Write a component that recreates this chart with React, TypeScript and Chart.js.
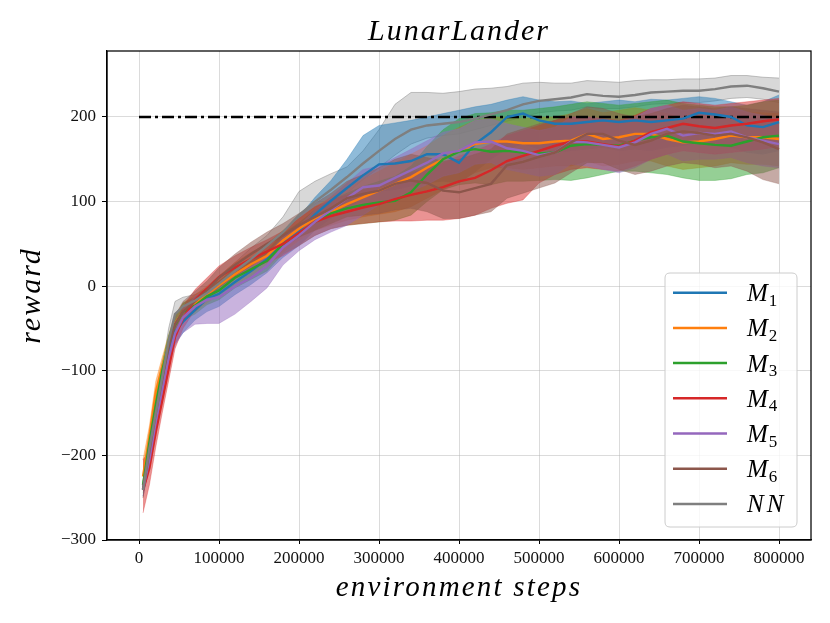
import { useEffect, useRef } from 'react';
import { Chart, registerables } from 'chart.js';

Chart.register(...registerables);

const steps = [5000, 13000, 21000, 29000, 37000, 45000, 55000, 70000, 85000, 100000, 120000, 140000, 160000, 180000, 200000, 220000, 240000, 260000, 280000, 300000, 320000, 340000, 360000, 380000, 400000, 420000, 440000, 460000, 480000, 500000, 520000, 540000, 560000, 580000, 600000, 620000, 640000, 660000, 680000, 700000, 720000, 740000, 760000, 780000, 800000];

const m1Mean = [-240, -200, -155, -115, -80, -54, -42, -28, -15, -9, 5, 18, 32, 50, 65, 85, 101, 116, 131, 144, 145, 148, 156, 156, 146, 168, 182, 200, 204, 196, 192, 192, 194, 196, 194, 196, 194, 196, 198, 205, 203, 200, 190, 188, 194];
const m1Upper = [-232, -190, -145, -105, -70, -44, -32, -18, -5, 6, 18, 32, 46, 65, 82, 105, 125, 150, 178, 190, 193, 196, 200, 204, 208, 212, 215, 220, 224, 220, 218, 219, 216, 218, 220, 218, 221, 220, 222, 224, 222, 218, 214, 218, 226];
const m1Lower = [-248, -212, -168, -128, -94, -68, -55, -40, -30, -24, -10, 2, 16, 34, 48, 66, 80, 92, 104, 112, 114, 118, 122, 124, 122, 135, 150, 162, 168, 162, 158, 160, 162, 164, 160, 162, 160, 164, 166, 170, 168, 164, 158, 156, 160];

const m2Mean = [-225, -178, -125, -95, -68, -44, -30, -20, -10, 1, 14, 26, 36, 54, 68, 80, 88, 97, 105, 113, 121, 129, 140, 150, 160, 168, 171, 171, 169, 169, 171, 172, 180, 174, 176, 180, 180, 174, 170, 171, 174, 178, 176, 176, 174];
const m2Upper = [-205, -165, -112, -84, -58, -34, -20, -10, 0, 12, 28, 40, 50, 66, 80, 94, 105, 116, 126, 136, 146, 156, 166, 178, 188, 196, 200, 200, 198, 200, 200, 204, 210, 205, 208, 211, 208, 204, 200, 202, 204, 208, 206, 205, 204];
const m2Lower = [-240, -192, -138, -106, -78, -54, -40, -30, -20, -10, 2, 12, 22, 40, 54, 66, 72, 78, 82, 85, 88, 94, 104, 114, 124, 134, 140, 140, 138, 140, 142, 142, 148, 142, 144, 148, 148, 142, 138, 140, 142, 146, 144, 144, 142];

const m3Mean = [-235, -185, -140, -100, -68, -46, -30, -23, -12, -5, 10, 20, 30, 50, 62, 76, 86, 92, 96, 99, 101, 111, 132, 150, 159, 162, 159, 160, 158, 157, 158, 166, 168, 167, 166, 172, 176, 178, 171, 169, 167, 166, 171, 176, 178];
const m3Upper = [-225, -175, -130, -90, -58, -36, -20, -13, -2, 6, 22, 32, 42, 62, 75, 90, 102, 110, 118, 124, 130, 142, 165, 185, 198, 204, 205, 208, 208, 210, 212, 215, 218, 216, 214, 216, 218, 220, 216, 214, 212, 212, 214, 218, 220];
const m3Lower = [-245, -195, -150, -110, -78, -56, -40, -33, -22, -16, -2, 8, 18, 38, 48, 60, 68, 72, 74, 76, 78, 84, 100, 114, 120, 122, 120, 124, 124, 125, 126, 125, 128, 132, 136, 136, 134, 132, 128, 125, 125, 127, 132, 134, 140];

const m4Mean = [-241, -215, -172, -135, -98, -60, -38, -16, -3, 11, 22, 32, 41, 50, 63, 76, 83, 88, 93, 97, 103, 108, 112, 117, 124, 128, 137, 148, 154, 160, 166, 171, 171, 168, 165, 172, 182, 187, 192, 189, 187, 190, 192, 195, 197];
const m4Upper = [-205, -195, -158, -120, -84, -46, -24, -4, 10, 24, 36, 46, 55, 65, 80, 94, 102, 108, 114, 120, 128, 134, 140, 146, 154, 160, 168, 178, 184, 190, 196, 200, 200, 198, 196, 202, 210, 214, 218, 216, 214, 216, 218, 220, 222];
const m4Lower = [-268, -235, -190, -150, -112, -74, -50, -28, -14, 0, 10, 20, 28, 36, 48, 60, 68, 72, 74, 76, 77, 77, 78, 78, 80, 84, 92, 98, 102, 122, 132, 138, 140, 138, 136, 142, 150, 156, 160, 158, 156, 158, 160, 162, 165];

const m5Mean = [-240, -205, -160, -122, -85, -56, -37, -24, -16, -13, 0, 10, 24, 46, 60, 76, 90, 104, 117, 119, 128, 137, 146, 157, 160, 170, 171, 163, 160, 155, 158, 171, 170, 167, 164, 170, 180, 186, 178, 181, 180, 183, 176, 172, 168];
const m5Upper = [-232, -195, -150, -112, -75, -46, -27, -12, -4, 2, 14, 24, 38, 58, 72, 90, 106, 122, 138, 142, 152, 162, 172, 182, 186, 196, 198, 192, 188, 184, 188, 200, 200, 198, 195, 200, 210, 214, 208, 210, 208, 212, 206, 202, 198];
const m5Lower = [-248, -215, -170, -132, -96, -70, -55, -45, -44, -44, -33, -18, -2, 25, 42, 55, 64, 72, 84, 96, 104, 112, 120, 130, 134, 144, 146, 138, 134, 130, 132, 144, 142, 138, 134, 140, 150, 156, 148, 150, 150, 152, 146, 142, 140];

const m6Mean = [-240, -195, -150, -110, -72, -45, -30, -18, -5, 10, 25, 38, 50, 60, 72, 82, 92, 104, 109, 113, 121, 125, 122, 113, 111, 116, 121, 143, 147, 153, 158, 170, 180, 180, 172, 167, 172, 180, 183, 181, 178, 180, 176, 170, 162];
const m6Upper = [-230, -185, -140, -100, -62, -35, -18, -6, 6, 22, 38, 52, 64, 74, 86, 98, 110, 124, 132, 140, 150, 156, 152, 148, 150, 156, 162, 180, 186, 192, 196, 204, 212, 210, 204, 200, 204, 210, 214, 212, 210, 212, 210, 208, 206];
const m6Lower = [-250, -205, -160, -120, -82, -55, -40, -30, -16, -2, 12, 24, 36, 46, 58, 66, 74, 82, 84, 86, 90, 92, 88, 80, 80, 84, 88, 104, 110, 116, 122, 134, 146, 146, 138, 132, 136, 142, 146, 144, 140, 142, 136, 126, 121];

const nnMean = [-241, -192, -150, -108, -65, -33, -24, -17, -8, 3, 18, 32, 48, 64, 84, 100, 114, 129, 145, 160, 174, 185, 190, 192, 194, 198, 203, 208, 215, 219, 221, 223, 227, 225, 224, 226, 229, 230, 231, 231, 233, 236, 237, 234, 230];
const nnUpper = [-232, -182, -140, -98, -50, -18, -13, -10, -3, 12, 28, 45, 60, 82, 112, 124, 133, 141, 160, 185, 215, 229, 229, 228, 230, 233, 234, 236, 240, 241, 240, 240, 243, 242, 241, 243, 244, 244, 245, 245, 246, 249, 249, 247, 246];
const nnLower = [-250, -200, -160, -118, -78, -45, -33, -25, -16, -6, 8, 20, 35, 50, 66, 82, 96, 110, 126, 140, 155, 168, 175, 178, 180, 185, 190, 195, 200, 205, 207, 208, 212, 210, 210, 212, 215, 216, 217, 217, 219, 222, 223, 221, 217];

const legendBase = ['M', 'M', 'M', 'M', 'M', 'M', 'NN'];
const legendSub = ['1', '2', '3', '4', '5', '6', ''];
const seriesColors = ['#1f77b4', '#ff7f0e', '#2ca02c', '#d62728', '#9467bd', '#8c564b', '#7f7f7f'];

const xTicks = [0, 100000, 200000, 300000, 400000, 500000, 600000, 700000, 800000];
const yTicks = [-300, -200, -100, 0, 100, 200];

const targetLevel = 200;
const targetStart = 0;
const targetEnd = 800000;

const titleText = 'LunarLander';
const xLabel = 'environment steps';
const yLabel = 'reward';

function rgba(hex: string, a: number) {
  const r = parseInt(hex.slice(1, 3), 16);
  const g = parseInt(hex.slice(3, 5), 16);
  const b = parseInt(hex.slice(5, 7), 16);
  return `rgba(${r},${g},${b},${a})`;
}

const series = [
  { mean: m1Mean, upper: m1Upper, lower: m1Lower },
  { mean: m2Mean, upper: m2Upper, lower: m2Lower },
  { mean: m3Mean, upper: m3Upper, lower: m3Lower },
  { mean: m4Mean, upper: m4Upper, lower: m4Lower },
  { mean: m5Mean, upper: m5Upper, lower: m5Lower },
  { mean: m6Mean, upper: m6Upper, lower: m6Lower },
  { mean: nnMean, upper: nnUpper, lower: nnLower },
];

const SERIF = '"Liberation Serif", "DejaVu Serif", serif';

const decorPlugin = {
  id: 'decor',
  afterDraw(chart: any) {
    const { ctx, chartArea: a } = chart;
    ctx.save();
    ctx.strokeStyle = '#000';
    ctx.lineWidth = 1.25;
    ctx.strokeRect(a.left, a.top, a.right - a.left, a.bottom - a.top);

    const cx = (a.left + a.right) / 2;
    ctx.fillStyle = '#000';
    ctx.textAlign = 'center';
    ctx.textBaseline = 'alphabetic';
    (ctx as any).letterSpacing = '2px';
    ctx.font = `italic 30px ${SERIF}`;
    ctx.fillText(titleText, cx, 40);

    (ctx as any).letterSpacing = '2.2px';
    ctx.font = `italic 29px ${SERIF}`;
    ctx.fillText(xLabel, cx, 596);

    ctx.save();
    (ctx as any).letterSpacing = '2px';
    ctx.font = `italic 30px ${SERIF}`;
    ctx.translate(40, (a.top + a.bottom) / 2);
    ctx.rotate(-Math.PI / 2);
    ctx.fillText(yLabel, 0, 0);
    ctx.restore();

    // legend
    const bx = 665, by = 273, bw = 132, bh = 254, r = 5;
    ctx.beginPath();
    ctx.moveTo(bx + r, by);
    ctx.lineTo(bx + bw - r, by);
    ctx.quadraticCurveTo(bx + bw, by, bx + bw, by + r);
    ctx.lineTo(bx + bw, by + bh - r);
    ctx.quadraticCurveTo(bx + bw, by + bh, bx + bw - r, by + bh);
    ctx.lineTo(bx + r, by + bh);
    ctx.quadraticCurveTo(bx, by + bh, bx, by + bh - r);
    ctx.lineTo(bx, by + r);
    ctx.quadraticCurveTo(bx, by, bx + r, by);
    ctx.closePath();
    ctx.fillStyle = 'rgba(255,255,255,0.8)';
    ctx.fill();
    ctx.strokeStyle = '#cccccc';
    ctx.lineWidth = 1;
    ctx.stroke();

    ctx.textAlign = 'left';
    for (let i = 0; i < legendBase.length; i++) {
      const yy = 292.7 + i * 35.2;
      ctx.strokeStyle = seriesColors[i];
      ctx.lineWidth = 2.5;
      ctx.beginPath();
      ctx.moveTo(673, yy);
      ctx.lineTo(727, yy);
      ctx.stroke();
      ctx.fillStyle = '#000';
      (ctx as any).letterSpacing = legendSub[i] ? '0px' : '3px';
      ctx.font = `italic 25px ${SERIF}`;
      ctx.fillText(legendBase[i], 747, yy + 8.5);
      if (legendSub[i]) {
        const w = ctx.measureText(legendBase[i]).width;
        (ctx as any).letterSpacing = '0px';
        ctx.font = `17px ${SERIF}`;
        ctx.fillText(legendSub[i], 747 + w + 1, yy + 13);
      }
    }
    ctx.restore();
  },
};

export default function App() {
  const ref = useRef<HTMLCanvasElement | null>(null);

  useEffect(() => {
    document.body.style.margin = '0';
    const canvas = ref.current;
    if (!canvas) return;

    const datasets: any[] = [];
    series.forEach((s, i) => {
      const c = seriesColors[i];
      const alpha = i === 6 ? 0.3 : 0.5;
      const bandOrder = i === 6 ? 70 : 60 - i;
      const idx = datasets.length;
      datasets.push({
        data: steps.map((x, k) => ({ x, y: s.upper[k] })),
        fill: idx + 1,
        backgroundColor: rgba(c, alpha),
        borderColor: rgba(c, i === 6 ? 0.45 : 0.3),
        borderWidth: 1,
        pointRadius: 0,
        order: bandOrder,
      });
      datasets.push({
        data: steps.map((x, k) => ({ x, y: s.lower[k] })),
        fill: false,
        borderColor: rgba(c, i === 6 ? 0.45 : 0.3),
        borderWidth: 1,
        pointRadius: 0,
        order: bandOrder,
      });
    });
    datasets.push({
      data: [
        { x: targetStart, y: targetLevel },
        { x: targetEnd, y: targetLevel },
      ],
      borderColor: '#000',
      borderWidth: 2.5,
      borderDash: [12, 4, 3, 4],
      fill: false,
      pointRadius: 0,
      order: 20,
    });
    series.forEach((s, i) => {
      datasets.push({
        data: steps.map((x, k) => ({ x, y: s.mean[k] })),
        borderColor: seriesColors[i],
        borderWidth: 2.4,
        fill: false,
        pointRadius: 0,
        order: 10 - i,
      });
    });

    const tickFont = { family: SERIF, size: 17 };
    const gridColor = 'rgba(176,176,176,0.45)';

    const chart = new Chart(canvas, {
      type: 'line',
      data: { datasets },
      plugins: [decorPlugin],
      options: {
        animation: false,
        responsive: false,
        maintainAspectRatio: false,
        layout: { padding: { top: 51, right: 19, bottom: 0, left: 0 } },
        plugins: {
          legend: { display: false },
          tooltip: { enabled: false },
          title: { display: false },
        },
        elements: { line: { tension: 0 }, point: { radius: 0 } },
        scales: {
          x: {
            type: 'linear',
            min: -40000,
            max: 840000,
            z: 1,
            afterFit: (s: any) => {
              s.height = 83;
            },
            afterBuildTicks: (s: any) => {
              s.ticks = xTicks.map((v) => ({ value: v }));
            },
            ticks: {
              font: tickFont,
              color: '#111',
              padding: 4,
              maxRotation: 0,
              autoSkip: false,
              callback: (v: any) => String(v),
            },
            grid: { color: gridColor, lineWidth: 1, tickColor: '#000', tickLength: 4, drawTicks: true },
            border: { color: '#000', width: 1.25 },
          },
          y: {
            type: 'linear',
            min: -300,
            max: 278,
            z: 1,
            afterFit: (s: any) => {
              s.width = 107;
            },
            afterBuildTicks: (s: any) => {
              s.ticks = yTicks.map((v) => ({ value: v }));
            },
            ticks: {
              font: tickFont,
              color: '#111',
              padding: 6,
              autoSkip: false,
              callback: (v: any) => (v < 0 ? '\u2212' + Math.abs(v) : String(v)),
            },
            grid: { color: gridColor, lineWidth: 1, tickColor: '#000', tickLength: 5, drawTicks: true },
            border: { color: '#000', width: 1.25 },
          },
        },
      } as any,
    });

    return () => {
      chart.destroy();
    };
  }, []);

  return (
    <div style={{ width: 830, height: 623 }}>
      <canvas ref={ref} width={830} height={623} style={{ display: 'block', width: 830, height: 623 }} />
    </div>
  );
}
